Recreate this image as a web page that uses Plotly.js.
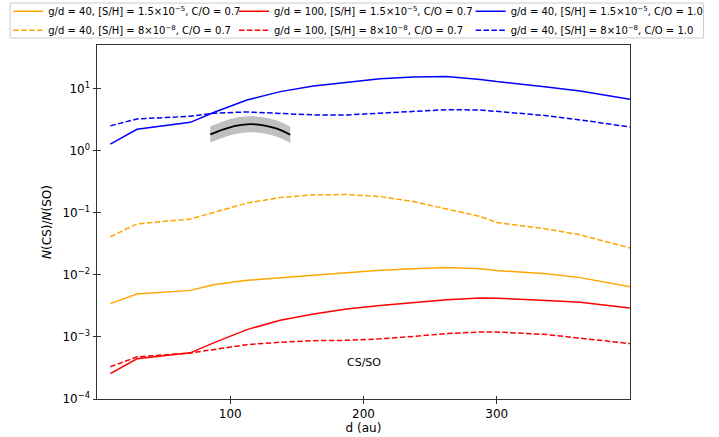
<!DOCTYPE html>
<html>
<head>
<meta charset="utf-8">
<script src="https://cdn.plot.ly/plotly-3.0.1.min.js"></script>
<style>
  html, body { margin: 0; padding: 0; background: #fff; }
  #chart { width: 719px; height: 437px; }
</style>
</head>
<body>
<div id="chart"></div>
<script>
// Radial distance grid of the models (au)
const distance = [10, 30, 70, 87.5, 112.5, 137.5, 162.5, 187.5, 212.5, 237.5, 262.5, 287.5, 300, 337.5, 362.5, 400];

// N(CS)/N(SO) model ratios
const gd40_sh15e5_co07 = [0.00343, 0.00491, 0.00561, 0.00693, 0.00813, 0.00898, 0.00993, 0.0107, 0.0118, 0.01254, 0.01315, 0.0125, 0.0117, 0.0104, 0.0090, 0.00644];
const gd40_sh8e8_co07  = [0.041, 0.066, 0.079, 0.100, 0.143, 0.175, 0.194, 0.196, 0.182, 0.151, 0.114, 0.087, 0.0696, 0.0545, 0.044, 0.027];
const gd100_sh15e5_co07 = [2.57e-4, 4.43e-4, 5.53e-4, 8.0e-4, 1.31e-3, 1.85e-3, 2.34e-3, 2.82e-3, 3.2e-3, 3.6e-3, 3.95e-3, 4.22e-3, 4.2e-3, 3.87e-3, 3.6e-3, 2.93e-3];
const gd100_sh8e8_co07  = [3.3e-4, 4.77e-4, 5.5e-4, 6.25e-4, 7.5e-4, 8.2e-4, 8.7e-4, 8.8e-4, 9.3e-4, 1.02e-3, 1.13e-3, 1.2e-3, 1.2e-3, 1.09e-3, 9.6e-4, 7.8e-4];
const gd40_sh15e5_co10 = [1.27, 2.2, 2.85, 4.1, 6.5, 8.9, 11.0, 12.7, 14.3, 15.3, 15.6, 14.0, 12.9, 10.6, 9.1, 6.7];
const gd40_sh8e8_co10  = [2.5, 3.23, 3.57, 4.0, 4.19, 4.0, 3.75, 3.75, 4.0, 4.35, 4.56, 4.5, 4.3, 3.65, 3.12, 2.4];

// Observed ratio and its uncertainty band
const obsDistance = [85, 95, 105, 115, 125, 135, 145];
const obsRatio = [1.82, 2.2, 2.52, 2.66, 2.55, 2.25, 1.8];
const obsUpper = [2.46, 2.97, 3.4, 3.59, 3.44, 3.04, 2.43];
const obsLower = [1.35, 1.63, 1.87, 1.97, 1.89, 1.67, 1.33];

// Axis ticks
const xTickVals = [100, 200, 300];
const yTickVals = [1e-4, 1e-3, 1e-2, 1e-1, 1, 10];
const yTickText = ['10<sup>−4</sup>', '10<sup>−3</sup>', '10<sup>−2</sup>', '10<sup>−1</sup>', '10<sup>0</sup>', '10<sup>1</sup>'];

const FONT = 'DejaVu Sans, sans-serif';
const ORANGE = '#ffa500', RED = '#ff0000', BLUE = '#0000ff';
const DASH = '5.5px,2.4px';

function model(y, name, color, dashed, legend) {
  return {
    x: distance, y: y, name: name, type: 'scatter', mode: 'lines',
    line: { color: color, width: 1.5, dash: dashed ? DASH : 'solid' },
    legend: legend, hoverinfo: 'skip'
  };
}

const traces = [
  { x: obsDistance, y: obsLower, type: 'scatter', mode: 'lines', line: { width: 0, color: 'rgba(0,0,0,0)', shape: 'spline' },
    showlegend: false, hoverinfo: 'skip' },
  { x: obsDistance, y: obsUpper, type: 'scatter', mode: 'lines', line: { width: 0, color: 'rgba(0,0,0,0)', shape: 'spline' },
    fill: 'tonexty', fillcolor: 'rgb(192,192,192)', showlegend: false, hoverinfo: 'skip' },
  { x: obsDistance, y: obsRatio, type: 'scatter', mode: 'lines', line: { color: '#000', width: 1.8, shape: 'spline' },
    showlegend: false, hoverinfo: 'skip' },
  model(gd40_sh15e5_co07, 'g/d = 40, [S/H] = 1.5×10<sup>−5</sup>, C/O = 0.7', ORANGE, false, 'legend'),
  model(gd40_sh8e8_co07, 'g/d = 40, [S/H] = 8×10<sup>−8</sup>, C/O = 0.7', ORANGE, true, 'legend'),
  model(gd100_sh15e5_co07, 'g/d = 100, [S/H] = 1.5×10<sup>−5</sup>, C/O = 0.7', RED, false, 'legend2'),
  model(gd100_sh8e8_co07, 'g/d = 100, [S/H] = 8×10<sup>−8</sup>, C/O = 0.7', RED, true, 'legend2'),
  model(gd40_sh15e5_co10, 'g/d = 40, [S/H] = 1.5×10<sup>−5</sup>, C/O = 1.0', BLUE, false, 'legend3'),
  model(gd40_sh8e8_co10, 'g/d = 40, [S/H] = 8×10<sup>−8</sup>, C/O = 1.0', BLUE, true, 'legend3'),
  // carrier for the inward half of the tick marks
  { x: [null], y: [null], xaxis: 'x2', yaxis: 'y2', type: 'scatter', mode: 'lines', showlegend: false, hoverinfo: 'skip' }
];

function legendAt(x) {
  return {
    x: x, y: 1.136, xanchor: 'left', yanchor: 'top', orientation: 'v', traceorder: 'normal',
    bgcolor: 'rgba(0,0,0,0)', borderwidth: 0, tracegroupgap: 0,
    font: { family: FONT, size: 10, color: '#000' }, itemclick: false, itemdoubleclick: false
  };
}

const layout = {
  width: 719, height: 437,
  margin: { l: 97, r: 88.5, t: 45, b: 37.5, autoexpand: false },
  paper_bgcolor: '#fff', plot_bgcolor: '#fff',
  font: { family: FONT, size: 12, color: '#000' },
  showlegend: true,
  legend: legendAt(-0.1665),
  legend2: legendAt(0.257),
  legend3: legendAt(0.701),
  xaxis: {
    range: [0, 400], tickvals: xTickVals, ticks: 'outside', ticklen: 3.5, tickwidth: 1, tickcolor: '#333',
    showgrid: false, zeroline: false, showline: true, linecolor: '#333', linewidth: 1, mirror: true,
    tickfont: { family: FONT, size: 12, color: '#000' },
    title: { text: 'd (au)', font: { family: FONT, size: 12, color: '#000' }, standoff: 2 }
  },
  yaxis: {
    type: 'log', range: [-4, 1.70], tickvals: yTickVals, ticktext: yTickText,
    ticks: 'outside', ticklen: 3.5, tickwidth: 1, tickcolor: '#333',
    showgrid: false, zeroline: false, showline: true, linecolor: '#333', linewidth: 1, mirror: true,
    tickfont: { family: FONT, size: 12, color: '#000' },
    title: { text: '<i>N</i>(CS)/<i>N</i>(SO)', font: { family: FONT, size: 12, color: '#000' }, standoff: 8 }
  },
  xaxis2: {
    overlaying: 'x', anchor: 'y2', side: 'bottom', range: [0, 400], tickvals: xTickVals,
    ticks: 'inside', ticklen: 3.5, tickwidth: 1, tickcolor: '#333', showticklabels: false,
    showgrid: false, zeroline: false, showline: false
  },
  yaxis2: {
    overlaying: 'y', anchor: 'x2', side: 'left', type: 'log', range: [-4, 1.70], tickvals: yTickVals,
    ticks: 'inside', ticklen: 3.5, tickwidth: 1, tickcolor: '#333', showticklabels: false,
    showgrid: false, zeroline: false, showline: false
  },
  shapes: [
    // frame around the three legend columns
    { type: 'rect', xref: 'paper', yref: 'paper', x0: -0.163, x1: 1.1378, y0: 1.0197, y1: 1.1185,
      line: { color: '#cccccc', width: 1 }, fillcolor: 'rgba(0,0,0,0)', layer: 'above' }
  ],
  annotations: [
    { x: 200, y: Math.log10(3.9e-4), xref: 'x', yref: 'y', text: 'CS/SO', showarrow: false,
      font: { family: FONT, size: 11, color: '#000' } }
  ]
};

Plotly.newPlot('chart', traces, layout, { staticPlot: true, displayModeBar: false });
</script>
</body>
</html>
